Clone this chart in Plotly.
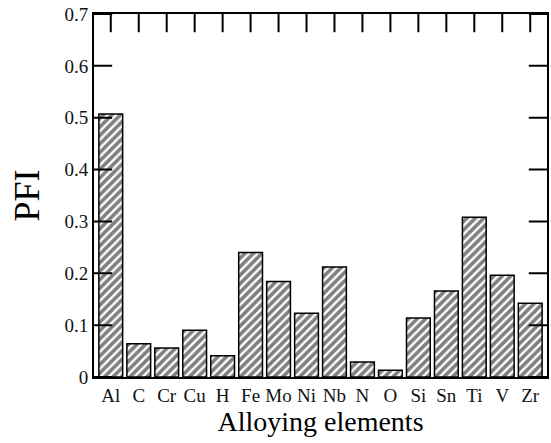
import plotly.graph_objects as go

elements = ["Al", "C", "Cr", "Cu", "H", "Fe", "Mo", "Ni", "Nb", "N", "O", "Si", "Sn", "Ti", "V", "Zr"]
pfi = [0.507, 0.064, 0.056, 0.090, 0.041, 0.240, 0.184, 0.123, 0.212, 0.029, 0.013, 0.114, 0.166, 0.308, 0.196, 0.142]
y_ticks = [0, 0.1, 0.2, 0.3, 0.4, 0.5, 0.6, 0.7]
y_labels = ["0", "0.1", "0.2", "0.3", "0.4", "0.5", "0.6", "0.7"]

font = "Liberation Serif, Times New Roman, serif"
x_idx = list(range(len(elements)))
x_range = [-0.6, len(elements) - 0.4]
y_range = [0, 0.7]
TICK = 26  # marker size -> half visible inside the frame

fig = go.Figure()
fig.add_trace(go.Bar(
    x=x_idx, y=pfi,
    marker=dict(
        color="white",
        line=dict(color="black", width=1.5),
        pattern=dict(shape="/", fgcolor="black", bgcolor="white", size=6, solidity=0.6),
    ),
    width=0.85,
))

# inward tick marks on the frame (top, left, right), placed through the axis scales
tick_line = dict(width=2, color="black")
fig.add_trace(go.Scatter(
    x=x_idx, y=[y_range[1]] * len(x_idx), mode="markers", hoverinfo="skip",
    marker=dict(symbol="line-ns", size=TICK, color="black", line=tick_line), cliponaxis=True,
))
fig.add_trace(go.Scatter(
    x=[x_range[0]] * len(y_ticks), y=y_ticks, mode="markers", hoverinfo="skip",
    marker=dict(symbol="line-ew", size=TICK, color="black", line=tick_line), cliponaxis=True,
))
fig.add_trace(go.Scatter(
    x=[x_range[1]] * len(y_ticks), y=y_ticks, mode="markers", hoverinfo="skip",
    marker=dict(symbol="line-ew", size=TICK, color="black", line=tick_line), cliponaxis=True,
))

fig.update_layout(
    width=551, height=443,
    margin=dict(l=94, r=2, t=14, b=66),
    paper_bgcolor="white", plot_bgcolor="white",
    showlegend=False,
)
fig.update_xaxes(
    type="linear",
    showline=True, linecolor="black", linewidth=2, mirror=True,
    ticks="", showgrid=False, zeroline=False,
    tickvals=x_idx, ticktext=elements,
    tickfont=dict(family=font, size=19, color="#111"),
    range=x_range,
    title=dict(text="Alloying elements", font=dict(family=font, size=28, color="black"), standoff=4),
)
fig.update_yaxes(
    showline=True, linecolor="black", linewidth=2, mirror=True,
    ticks="", showgrid=False, zeroline=False,
    tickfont=dict(family=font, size=19, color="#111"),
    range=y_range,
    tickvals=y_ticks, ticktext=y_labels,
    title=dict(text="PFI", font=dict(family=font, size=36, color="black"), standoff=14),
)

fig.write_html("out.html")
